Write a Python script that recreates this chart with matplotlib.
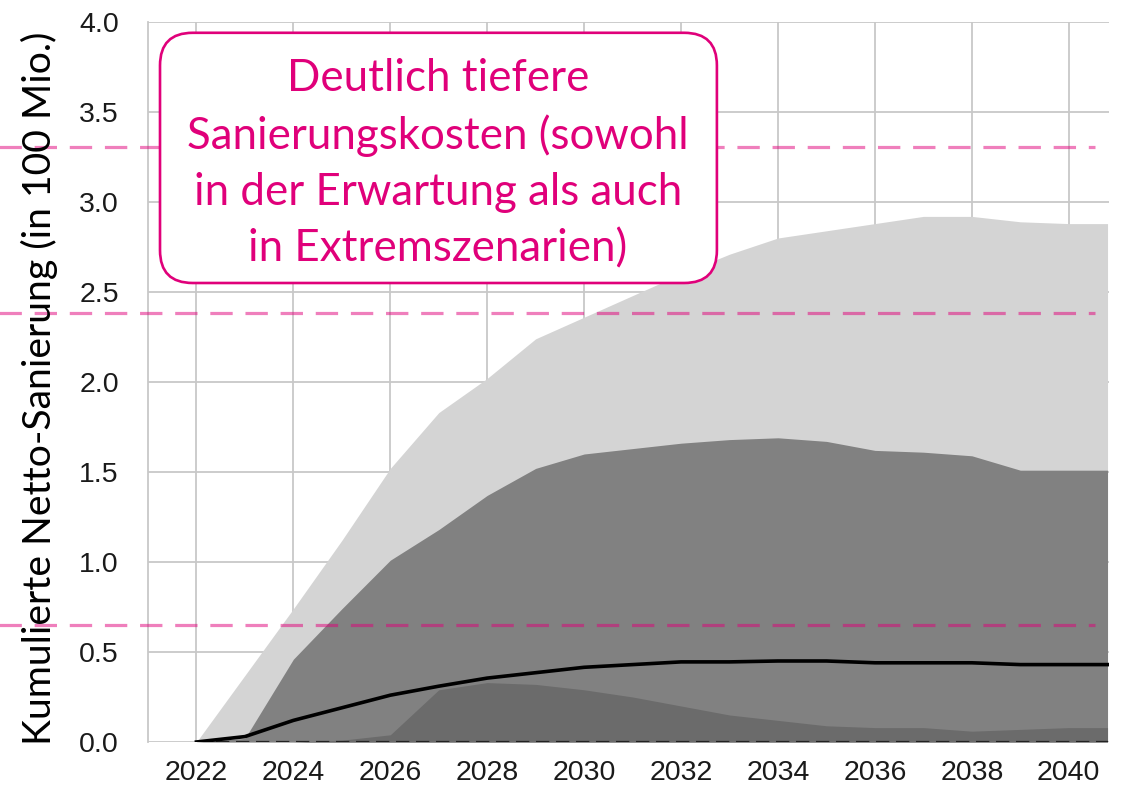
import matplotlib
matplotlib.use("Agg")
import matplotlib.pyplot as plt
from matplotlib.patches import FancyBboxPatch

# chart data
years = [2022, 2023, 2024, 2025, 2026, 2027, 2028, 2029, 2030, 2031,
         2032, 2033, 2034, 2035, 2036, 2037, 2038, 2039, 2040, 2040.8]
band_outer = [0.0, 0.37, 0.74, 1.12, 1.52, 1.83, 2.02, 2.24, 2.36, 2.48,
              2.60, 2.71, 2.80, 2.84, 2.88, 2.92, 2.92, 2.89, 2.88, 2.88]
band_inner = [0.0, 0.02, 0.46, 0.74, 1.01, 1.18, 1.37, 1.52, 1.60, 1.63,
              1.66, 1.68, 1.69, 1.67, 1.62, 1.61, 1.59, 1.51, 1.51, 1.51]
band_low = [0.0, 0.0, 0.0, 0.01, 0.04, 0.29, 0.33, 0.32, 0.29, 0.25,
            0.20, 0.15, 0.12, 0.09, 0.08, 0.08, 0.06, 0.07, 0.08, 0.08]
median = [0.0, 0.03, 0.12, 0.19, 0.26, 0.31, 0.355, 0.385, 0.415, 0.43,
          0.445, 0.445, 0.45, 0.45, 0.44, 0.44, 0.44, 0.43, 0.43, 0.43]
ref_levels = [3.306, 2.383, 0.65]

x_ticks = list(range(2022, 2041, 2))
y_ticks = [0.0, 0.5, 1.0, 1.5, 2.0, 2.5, 3.0, 3.5, 4.0]

ylabel = "Kumulierte Netto-Sanierung (in 100 Mio.)"
note = ("Deutlich tiefere\nSanierungskosten (sowohl\n"
        "in der Erwartung als auch\nin Extremszenarien)")

MAGENTA = "#e0007a"


def main() -> None:
    fig = plt.figure(figsize=(11.22, 7.94), dpi=100)
    ax = fig.add_axes([0.1319, 0.0655, 0.8565, 0.9068])

    ax.fill_between(years, 0, band_outer, color="#d4d4d4", lw=0, zorder=2)
    ax.fill_between(years, 0, band_inner, color="#818181", lw=0, zorder=3)
    ax.fill_between(years, 0, band_low, color="#6b6b6b", lw=0, zorder=4)
    ax.plot([years[0], years[-1]], [0, 0], color="#222222", lw=1.6,
            ls=(0, (6, 3)), zorder=5)
    ax.plot(years, median, color="black", lw=2.6, zorder=6)

    # pink reference lines run out into the left margin
    for lvl in ref_levels:
        ax.plot([2017.9, 2040.55], [lvl, lvl], color=MAGENTA, alpha=0.5,
                lw=2.3, ls=(0, (7, 4)), clip_on=False, zorder=7)

    ax.set_xlim(2021, 2040.83)
    ax.set_ylim(0, 4.0)
    ax.set_xticks(x_ticks)
    ax.set_yticks(y_ticks)
    ax.set_yticklabels([f"{v:.1f}" for v in y_ticks])
    ax.tick_params(length=0, labelsize=20.5, colors="#1a1a1a")
    ax.tick_params(axis="x", pad=13)
    ax.tick_params(axis="y", pad=21)
    for lab in ax.get_xticklabels() + ax.get_yticklabels():
        lab.set_family("Liberation Sans")
    ax.grid(True, color="#c8c8c8", lw=1.3, zorder=0)
    ax.set_axisbelow(True)
    for side in ["top", "right", "bottom"]:
        ax.spines[side].set_visible(False)
    ax.spines["left"].set_color("#c8c8c8")
    ax.spines["left"].set_linewidth(1.3)

    fig.text(39 / 1122, 1 - 388 / 794, ylabel, rotation=90, ha="center",
             va="center", fontsize=28.2, family="Lato", color="black")

    # annotation box
    box = FancyBboxPatch((0.0125, 0.6375), 0.5795, 0.3475,
                         boxstyle="round,pad=0,rounding_size=0.034",
                         mutation_aspect=961 / 720, transform=ax.transAxes,
                         facecolor="white", edgecolor=MAGENTA, lw=1.9,
                         zorder=8, clip_on=False)
    ax.add_patch(box)
    ax.text(0.3015, 0.8030, note, transform=ax.transAxes, ha="center",
            va="center", fontsize=31.6, family="Lato", color=MAGENTA,
            linespacing=1.45, zorder=9)

    fig.savefig("out.png", dpi=100)
    plt.close(fig)


if __name__ == "__main__":
    main()
